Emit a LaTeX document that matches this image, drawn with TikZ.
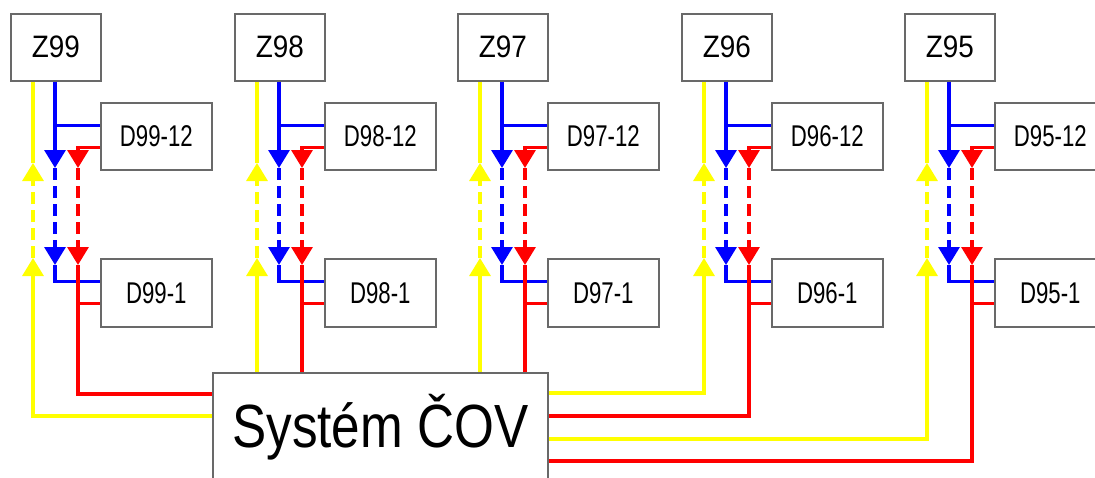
\documentclass[tikz,border=0pt]{standalone}
\usepackage{fontspec}
\setmainfont{Liberation Sans}
\usetikzlibrary{arrows.meta}
\definecolor{yel}{RGB}{255,255,0}
\definecolor{blu}{RGB}{0,0,255}
\definecolor{rd}{RGB}{255,0,0}
\definecolor{bord}{RGB}{105,105,105}
\begin{document}
\begin{tikzpicture}[x=1pt,y=-1pt,
 box/.style={draw=bord,line width=1.6pt,fill=white,inner sep=0pt,anchor=north west},
 zbox/.style={box,minimum width=90pt,minimum height=67pt,font=\fontsize{31}{31}\selectfont},
 dbox/.style={box,minimum width=111pt,minimum height=67pt,font=\fontsize{30}{30}\selectfont},
 wire/.style={line width=3.2pt},
 tri/.style={-{Triangle[width=21pt,length=18pt]}},
 dsh/.style={dash pattern=on 12pt off 6pt},
]
\useasboundingbox (0,0) rectangle (1095,477);
\clip (0,0) rectangle (1095,477);
\node[box,minimum width=335pt,minimum height=108pt,font=\fontsize{61}{61}\selectfont] (sys) at (212,372) {\scalebox{0.84}[1]{Systém ČOV}};
\coordinate (sL1) at ([yshift=-22pt]sys.north west);
\coordinate (sL2) at ([yshift=-44pt]sys.north west);
\coordinate (sR1) at ([yshift=-21pt]sys.north east);
\coordinate (sR2) at ([yshift=-44pt]sys.north east);
\coordinate (sR3) at ([yshift=-67pt]sys.north east);
\coordinate (sR4) at ([yshift=-89pt]sys.north east);
\foreach \n/\dx in {99/0,98/224,97/447,96/671,95/894}{
  \node[zbox] (Z\n) at (10+\dx,13) {\scalebox{0.9}[1]{Z\n}};
  \node[dbox] (Da\n) at (100+\dx,102) {\scalebox{0.74}[1]{D\n-12}};
  \node[dbox,minimum height=68pt] (Db\n) at (100+\dx,258) {\scalebox{0.74}[1]{D\n-1}};
  \coordinate (yt\n) at (33+\dx,163);
  \coordinate (yb\n) at (33+\dx,258);
  \coordinate (bt\n) at (55+\dx,168);
  \coordinate (bb\n) at (55+\dx,265);
  \coordinate (rt\n) at (78+\dx,168);
  \coordinate (rb\n) at (78+\dx,265);
  \coordinate (dab\n) at ([yshift=11pt]Da\n.west);
  \coordinate (dar\n) at ([yshift=-11pt]Da\n.west);
  \coordinate (dbb\n) at ([yshift=11pt]Db\n.west);
  \coordinate (dbr\n) at ([yshift=-11pt]Db\n.west);
  % blue
  \draw[wire,blu,tri] (Z\n.south -| bt\n) -- (bt\n);
  \draw[wire,blu] (dab\n -| bt\n) -- (dab\n);
  \draw[wire,blu,dsh,tri] (bt\n) -- (bb\n);
  \draw[wire,blu] (bb\n) |- (dbb\n);
  % red
  \draw[wire,rd,tri] (dar\n) -| (rt\n);
  \draw[wire,rd,dsh,tri] (rt\n) -- (rb\n);
  \draw[wire,rd] (dbr\n) -- (dbr\n -| rb\n);
  % yellow
  \draw[wire,yel] (yt\n) -- (Z\n.south -| yt\n);
  \draw[wire,yel,dsh,tri] (yb\n) -- (yt\n);
}
% connections to the system
\draw[wire,rd] (rb99) |- (sL1);
\draw[wire,yel,tri] (sL2) -| (yb99);
\draw[wire,rd] (rb98) -- (rb98 |- sys.north);
\draw[wire,yel,tri] (yb98 |- sys.north) -- (yb98);
\draw[wire,rd] (rb97) -- (rb97 |- sys.north);
\draw[wire,yel,tri] (yb97 |- sys.north) -- (yb97);
\draw[wire,yel,tri] (sR1) -| (yb96);
\draw[wire,rd] (rb96) |- (sR2);
\draw[wire,yel,tri] (sR3) -| (yb95);
\draw[wire,rd] (rb95) |- (sR4);
\end{tikzpicture}
\end{document}
